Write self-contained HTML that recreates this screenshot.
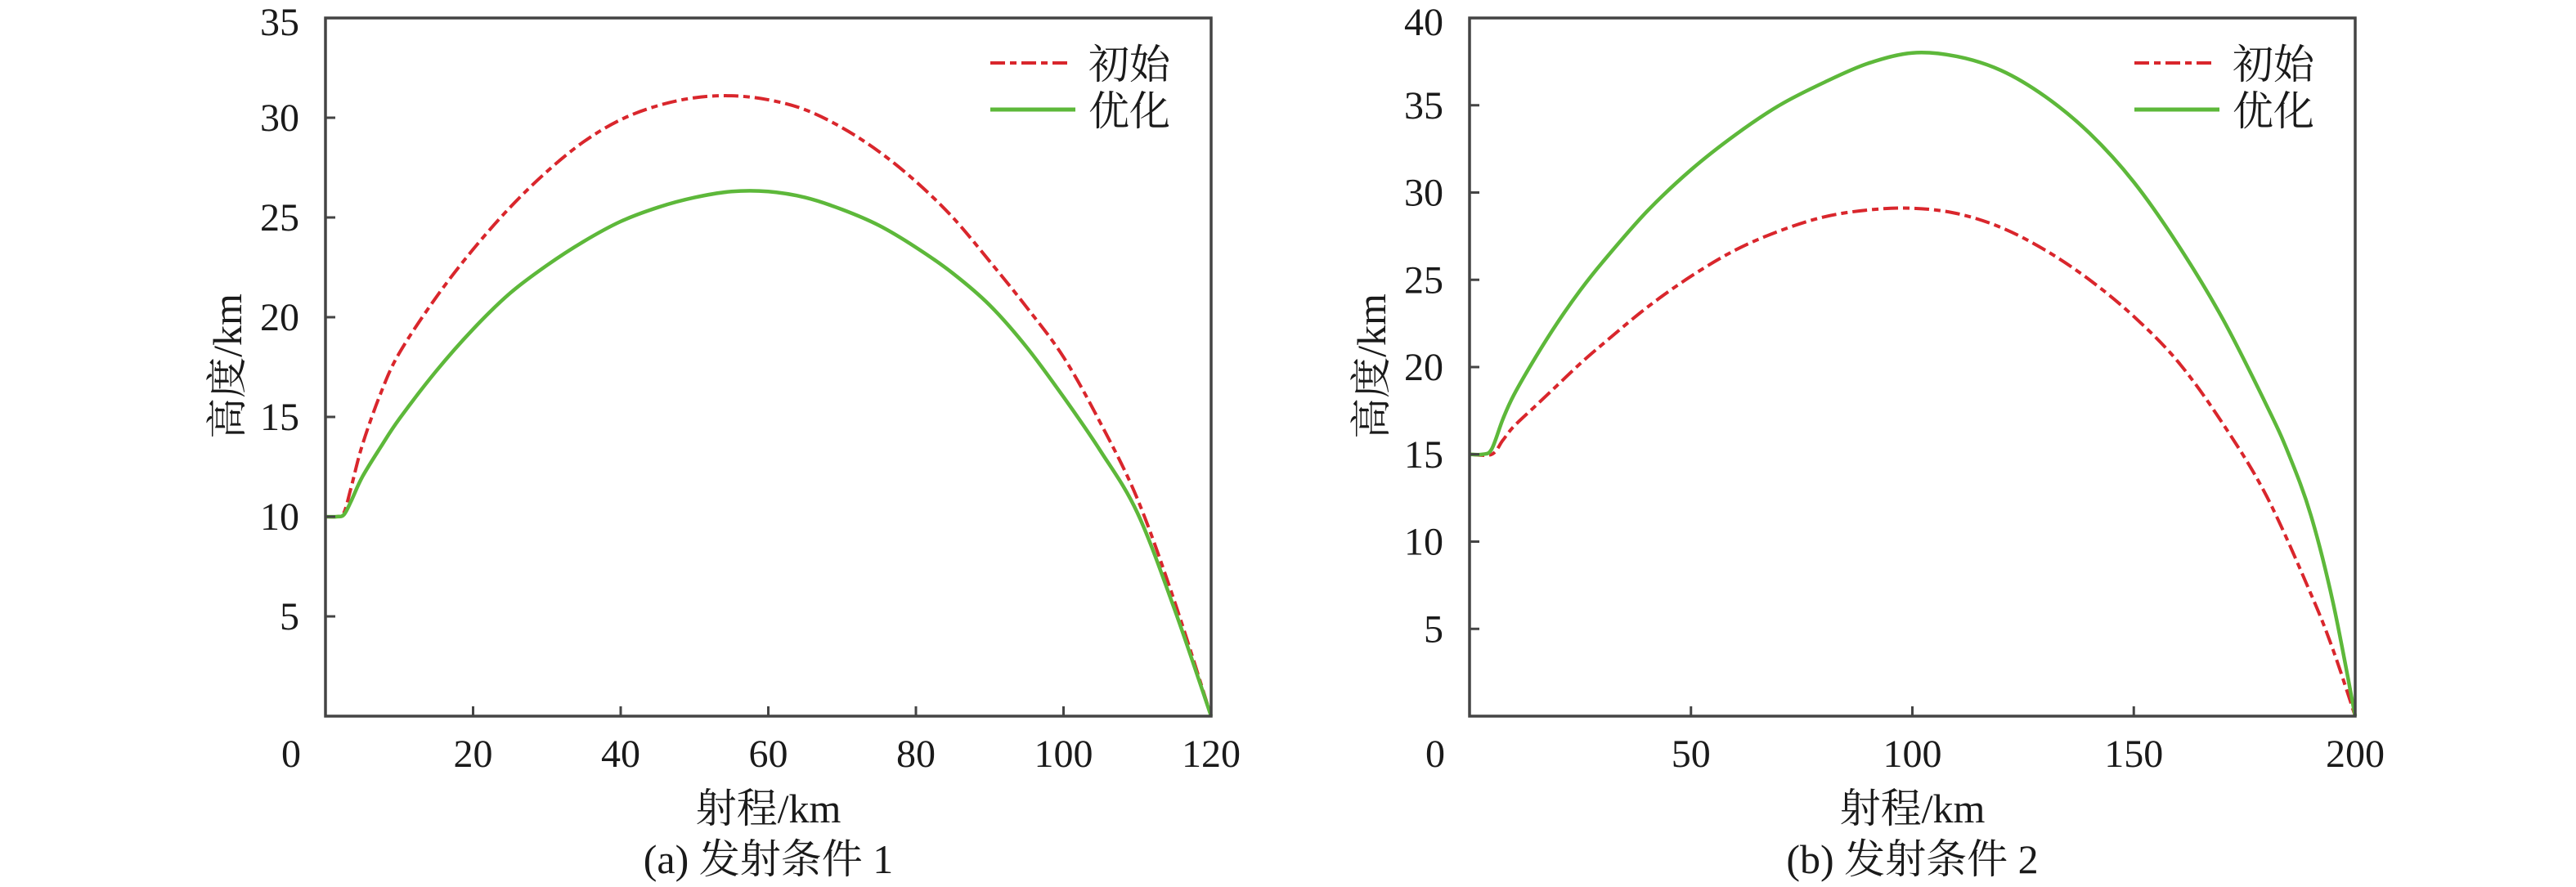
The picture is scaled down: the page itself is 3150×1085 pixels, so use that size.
<!DOCTYPE html>
<html><head><meta charset="utf-8"><style>
html,body{margin:0;padding:0;background:#fff;}
svg{display:block;}
text{font-family:"Liberation Serif","Noto Serif CJK SC","Noto Sans CJK SC",serif;fill:#1a1a1a;}
</style></head><body>
<svg id="chart" width="3150" height="1085" viewBox="0 0 3150 1085" xmlns="http://www.w3.org/2000/svg"></svg>
<script>
// Panel (a)
const aX = [0, 1.5, 2.5, 3.5, 5, 7.5, 10, 15, 20, 25, 30, 35, 40, 45, 50, 55, 60, 65, 70, 75, 80, 85, 90, 95, 100, 105, 110, 115, 120];
const aInit = [10, 10, 10.2, 11.5, 13.6, 16.2, 18.2, 21.0, 23.4, 25.5, 27.3, 28.8, 29.9, 30.6, 31.0, 31.1, 30.9, 30.4, 29.5, 28.3, 26.8, 25.0, 22.8, 20.5, 18.0, 14.7, 10.9, 5.8, 0];
const aOptX = [0, 1.5, 2.5, 3.5, 5, 7.5, 10, 15, 20, 25, 30, 35, 40, 45, 50, 55, 60, 65, 70, 75, 80, 85, 90, 95, 100, 105, 110, 115, 120];
const aOpt = [10, 10, 10.1, 10.8, 12.0, 13.5, 14.9, 17.3, 19.4, 21.2, 22.6, 23.8, 24.8, 25.5, 26.0, 26.3, 26.3, 26.0, 25.4, 24.6, 23.5, 22.2, 20.6, 18.5, 16.0, 13.3, 10.2, 5.4, 0];
const aXTicks = [0, 20, 40, 60, 80, 100, 120];
const aYTicks = [5, 10, 15, 20, 25, 30, 35];
// Panel (b)
const bX = [0, 5, 7.5, 10, 15, 20, 25, 30, 40, 50, 60, 70, 80, 90, 100, 110, 120, 130, 140, 150, 160, 170, 180, 190, 195, 200];
const bInit = [15, 15, 15.8, 16.6, 17.8, 19.0, 20.2, 21.3, 23.4, 25.2, 26.7, 27.8, 28.6, 29.0, 29.1, 28.8, 28.0, 26.7, 25.0, 22.9, 20.3, 16.8, 12.6, 7.0, 3.8, 0];
const bOptX = [0, 3, 5, 7.5, 10, 15, 20, 25, 30, 40, 50, 60, 70, 80, 90, 100, 110, 120, 130, 140, 150, 160, 170, 180, 185, 190, 195, 200];
const bOpt = [15, 15, 15.3, 17.0, 18.4, 20.6, 22.6, 24.4, 26.0, 28.9, 31.3, 33.3, 35.0, 36.3, 37.4, 38.0, 37.8, 37.0, 35.5, 33.4, 30.6, 27.0, 22.8, 17.8, 15.0, 11.5, 6.5, 0];
const bXTicks = [0, 50, 100, 150, 200];
const bYTicks = [5, 10, 15, 20, 25, 30, 35, 40];

const NS = "http://www.w3.org/2000/svg";
const svg = document.getElementById('chart');
function mk(tag, attrs, parent, txt) {
  const e = document.createElementNS(NS, tag);
  for (const k in attrs) e.setAttribute(k, attrs[k]);
  if (txt !== undefined) e.textContent = txt;
  (parent || svg).appendChild(e);
  return e;
}
function pathFrom(xs, ys, sx, sy) {
  const p = xs.map((x, i) => [sx(x), sy(ys[i])]);
  let d = 'M' + p[0][0] + ',' + p[0][1];
  for (let i = 0; i < p.length - 1; i++) {
    const p0 = p[i - 1] || p[i], p1 = p[i], p2 = p[i + 1], p3 = p[i + 2] || p2;
    const c1x = p1[0] + (p2[0] - p0[0]) / 6, c1y = p1[1] + (p2[1] - p0[1]) / 6;
    const c2x = p2[0] - (p3[0] - p1[0]) / 6, c2y = p2[1] - (p3[1] - p1[1]) / 6;
    d += ' C' + c1x + ',' + c1y + ' ' + c2x + ',' + c2y + ' ' + p2[0] + ',' + p2[1];
  }
  return d;
}
function panel(cfg) {
  const g = mk('g', {});
  
  
  const L = cfg.left, R = cfg.right, T = 22, B = 876;
  const sx = v => L + (v - cfg.xmin) / (cfg.xmax - cfg.xmin) * (R - L);
  const sy = v => B - v / cfg.ymax * (B - T);
  ['init', 'opt'].forEach(k => {
    let p;
    if (k === 'init') {
      p = mk('path', {d: pathFrom(cfg.x, cfg.init, sx, sy), fill: 'none', stroke: '#d9262c', 'stroke-width': 4, 'stroke-dasharray': '18,6,8,6'}, g);
      
    } else {
      p = mk('path', {d: pathFrom(cfg.ox, cfg.opt, sx, sy), fill: 'none', stroke: '#5db83a', 'stroke-width': 4.5}, g);
      
    }
    
  });
  const fr = mk('rect', {x: L, y: T, width: R - L, height: B - T, fill: 'none', stroke: '#444', 'stroke-width': 3.5}, g);
  
  
  cfg.xt.forEach(v => {
    const x = sx(v);
    if (v !== cfg.xmin && v !== cfg.xmax) {
      const t = mk('line', {x1: x, y1: B, x2: x, y2: B - 12, stroke: '#444', 'stroke-width': 3}, g);
      
      
    }
    const lx = v === cfg.xmin ? x - 42 : x;
    const lb = mk('text', {x: lx, y: 938, 'font-size': 48, 'text-anchor': 'middle'}, g, String(v));
    
    
  });
  cfg.yt.forEach(v => {
    const y = sy(v);
    if (v !== cfg.ymax) {
      const t = mk('line', {x1: L, y1: y, x2: L + 12, y2: y, stroke: '#444', 'stroke-width': 3}, g);
      
      
    }
    const ly = v === cfg.ymax ? 43 : y + 16;
    const lb = mk('text', {x: L - 32, y: ly, 'font-size': 48, 'text-anchor': 'end'}, g, String(v));
    
    
  });
  const cx = (L + R) / 2;
  const xt = mk('text', {x: cx, y: 1006, 'font-size': 50, 'text-anchor': 'middle'}, g, '射程/km');
  
  
  const yx = L - 120, yy = 448;
  const yt = mk('text', {x: yx, y: yy, 'font-size': 50, 'text-anchor': 'middle', transform: 'rotate(-90 ' + yx + ' ' + yy + ')', dy: 17}, g, '高度/km');
  
  
  const cap = mk('text', {x: cx, y: 1068, 'font-size': 50, 'text-anchor': 'middle'}, g, cfg.caption);
  
  
  const lg = mk('g', {}, g);
  
  
  const lx0 = R - 270;
  const l1 = mk('line', {x1: lx0, y1: 77, x2: lx0 + 100, y2: 77, stroke: '#d9262c', 'stroke-width': 4, 'stroke-dasharray': '18,6,8,6'}, lg);
  
  
  const t1 = mk('text', {x: lx0 + 120, y: 96, 'font-size': 50}, lg, '初始');
  
  
  const l2 = mk('line', {x1: lx0, y1: 134, x2: lx0 + 104, y2: 134, stroke: '#5db83a', 'stroke-width': 5}, lg);
  
  
  const t2 = mk('text', {x: lx0 + 120, y: 153, 'font-size': 50}, lg, '优化');
  
  
}
panel({name: 'panel-a', left: 398, right: 1481, xmin: 0, xmax: 120, ymax: 35, x: aX, init: aInit, ox: aOptX, opt: aOpt, xt: aXTicks, yt: aYTicks, caption: '(a) 发射条件 1'});
panel({name: 'panel-b', left: 1797, right: 2880, xmin: 0, xmax: 200, ymax: 40, x: bX, init: bInit, ox: bOptX, opt: bOpt, xt: bXTicks, yt: bYTicks, caption: '(b) 发射条件 2'});
</script>
</body></html>
